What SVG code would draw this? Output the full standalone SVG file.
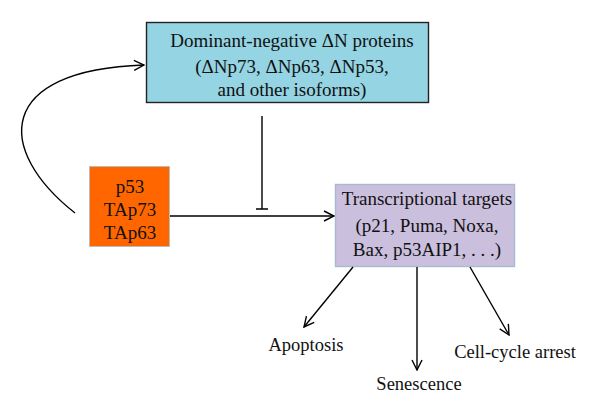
<svg xmlns="http://www.w3.org/2000/svg" width="600" height="412" viewBox="0 0 600 412">
<defs>
<marker id="arr" viewBox="0 0 12 12" refX="11" refY="6" markerWidth="12" markerHeight="12" markerUnits="userSpaceOnUse" orient="auto">
<path d="M1,1 L11,6 L1,11" fill="none" stroke="#000" stroke-width="1.4"/>
</marker>
</defs>
<style>
text{font-family:"Liberation Serif","Times New Roman",serif;fill:#111;text-anchor:middle}
.big{font-size:19px}
.lbl{font-size:18.5px}
.c{fill:none;stroke:#000;stroke-width:1.4}
</style>
<rect width="600" height="412" fill="#fff"/>
<g id="dn">
<rect x="146.5" y="22.5" width="282" height="80" fill="#94D4E3" stroke="#222" stroke-width="1.4"/>
<text class="big" x="292" y="47">Dominant-negative ΔN proteins</text>
<text class="big" x="292" y="73">(ΔNp73, ΔNp63, ΔNp53,</text>
<text class="big" x="292" y="96">and other isoforms)</text>
</g>
<g id="p53">
<rect x="89.5" y="166.5" width="80" height="80" fill="#FF6600" stroke="#bbb" stroke-width="1"/>
<text class="big" x="130" y="193">p53</text>
<text class="big" x="130" y="216">TAp73</text>
<text class="big" x="130" y="239">TAp63</text>
</g>
<g id="targets">
<rect x="335.5" y="184.5" width="179" height="82" fill="#CBBFDE" stroke="#A8BAD0" stroke-width="1.4"/>
<text class="big" x="427" y="205">Transcriptional targets</text>
<text class="big" x="427" y="232">(p21, Puma, Noxa,</text>
<text class="big" x="427" y="256">Bax, p53AIP1, . . .)</text>
</g>
<g id="apoptosis"><text class="lbl" x="306" y="351">Apoptosis</text></g>
<g id="senescence"><text class="lbl" x="419" y="390">Senescence</text></g>
<g id="arrest"><text class="lbl" x="515" y="358">Cell-cycle arrest</text></g>
<g id="connectors">
<path class="c" d="M75,213 C-5,150 -5,70 144,65" marker-end="url(#arr)"/>
<path class="c" d="M170,216 L334,216" marker-end="url(#arr)"/>
<path class="c" d="M262,116 L262,209 M256,209 L268,209"/>
<path class="c" d="M353,267 L304,327" marker-end="url(#arr)"/>
<path class="c" d="M417,267 L417,370" marker-end="url(#arr)"/>
<path class="c" d="M470,267 L509,335" marker-end="url(#arr)"/>
</g>
</svg>
